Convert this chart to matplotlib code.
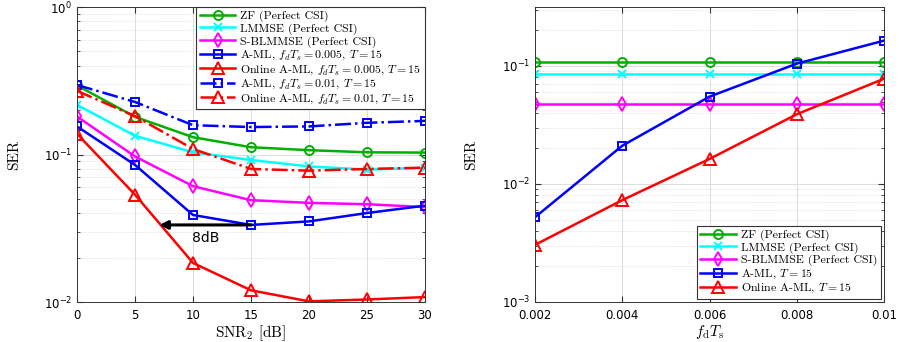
import numpy as np
import matplotlib
matplotlib.use("Agg")
import matplotlib.pyplot as plt
from matplotlib.font_manager import FontProperties
from matplotlib.ticker import LogLocator, NullFormatter

# ---------------- data ----------------
snr = [0, 5, 10, 15, 20, 25, 30]
zf_snr = [0.294, 0.18, 0.131, 0.112, 0.107, 0.1035, 0.103]
lmmse_snr = [0.217, 0.134, 0.1035, 0.0918, 0.083, 0.079, 0.0814]
sblmmse_snr = [0.181, 0.097, 0.061, 0.049, 0.047, 0.046, 0.044]
aml_005 = [0.155, 0.085, 0.0389, 0.0333, 0.0352, 0.0401, 0.045]
online_005 = [0.138, 0.0534, 0.0184, 0.012, 0.0101, 0.0104, 0.0108]
aml_01 = [0.296, 0.227, 0.158, 0.1535, 0.155, 0.164, 0.169]
online_01 = [0.27, 0.182, 0.109, 0.0798, 0.0777, 0.0798, 0.0814]

fdts = [0.002, 0.004, 0.006, 0.008, 0.01]
fdts_labels = ["0.002", "0.004", "0.006", "0.008", "0.01"]
zf_f = [0.109, 0.109, 0.109, 0.109, 0.109]
lmmse_f = [0.0856, 0.0856, 0.0856, 0.0856, 0.0856]
sblmmse_f = [0.048, 0.048, 0.048, 0.048, 0.048]
aml_f = [0.00523, 0.0211, 0.055, 0.1047, 0.164]
online_f = [0.00305, 0.0073, 0.0163, 0.039, 0.078]

labels_left = ["ZF (Perfect CSI)", "LMMSE (Perfect CSI)", "S-BLMMSE (Perfect CSI)",
               r"A-ML, $f_dT_s = 0.005$, $T = 15$",
               r"Online A-ML, $f_dT_s = 0.005$, $T = 15$",
               r"A-ML, $f_dT_s = 0.01$, $T = 15$",
               r"Online A-ML, $f_dT_s = 0.01$, $T = 15$"]
labels_right = ["ZF (Perfect CSI)", "LMMSE (Perfect CSI)", "S-BLMMSE (Perfect CSI)",
                r"A-ML, $T = 15$", r"Online A-ML, $T = 15$"]

# ---------------- style ----------------
GREEN = "#00b000"
CYAN = "#00ffff"
MAG = "#ff00ff"
BLUE = "#0000ff"
RED = "#ff0000"

plt.rcParams["axes.unicode_minus"] = False
cmfp = FontProperties(family="cmr10", size=8.6, math_fontfamily="cm")
labfp = FontProperties(family="cmr10", size=11, math_fontfamily="cm")

fig = plt.figure(figsize=(8.99, 3.42), dpi=100)
W, H = 899, 342
ax1 = fig.add_axes([77 / W, 1 - 302 / H, (425 - 77) / W, (302 - 7) / H])
ax2 = fig.add_axes([535 / W, 1 - 302 / H, (884 - 535) / W, (302 - 7) / H])

lw = 1.8
ms = 6.5
mew = 1.4


def style_axis(ax):
    ax.set_yscale("log")
    ax.grid(True, which="major", color="#dddddd", linewidth=0.7)
    ax.grid(True, which="minor", axis="y", color="#dddddd", linestyle=":", linewidth=0.7)
    ax.tick_params(which="both", direction="in", top=True, right=True, labelsize=8.5,
                   color="#333333")
    ax.tick_params(which="major", length=4)
    ax.tick_params(which="minor", length=2)
    ax.tick_params(axis="x", pad=5)
    ax.yaxis.set_minor_formatter(NullFormatter())
    for s in ax.spines.values():
        s.set_color("#333333")
        s.set_linewidth(0.7)
    ax.set_axisbelow(True)
    ax.yaxis.set_major_locator(LogLocator(base=10, numticks=10))
    ax.yaxis.set_minor_locator(LogLocator(base=10, subs=np.arange(2, 10) * 1.0, numticks=10))


# ---------------- left ----------------
ax1.plot(snr, zf_snr, "-o", color=GREEN, lw=lw, ms=ms, mfc="none", mew=mew, label=labels_left[0])
ax1.plot(snr, lmmse_snr, "-x", color=CYAN, lw=lw, ms=ms - 1, mfc="none", mew=mew, label=labels_left[1])
ax1.plot(snr, sblmmse_snr, "-d", color=MAG, lw=lw, ms=ms + 1, mfc="none", mew=mew, label=labels_left[2])
ax1.plot(snr, aml_005, "-s", color=BLUE, lw=lw, ms=ms - 0.5, mfc="none", mew=mew, label=labels_left[3])
ax1.plot(snr, online_005, "-^", color=RED, lw=lw, ms=ms + 2, mfc="none", mew=mew, label=labels_left[4])
ax1.plot(snr, aml_01, "-.s", color=BLUE, lw=lw, ms=ms - 0.5, mfc="none", mew=mew, label=labels_left[5])
ax1.plot(snr, online_01, "-.^", color=RED, lw=lw, ms=ms + 2, mfc="none", mew=mew, label=labels_left[6])

style_axis(ax1)
ax1.set_xlim(0, 30)
ax1.set_ylim(1e-2, 1e0)
ax1.set_xticks(snr)
ax1.set_xlabel(r"SNR$_2$ [dB]", fontproperties=labfp, labelpad=1)
ax1.set_ylabel("SER", fontproperties=labfp, labelpad=16)
leg1 = ax1.legend(loc="upper right", prop=cmfp, borderaxespad=0, fancybox=False,
                  edgecolor="#333333", framealpha=1, handlelength=3.0,
                  labelspacing=0.1, borderpad=0.3, handletextpad=0.4)
leg1.get_frame().set_linewidth(0.8)

ax1.annotate("", xy=(7.1, 0.0333), xytext=(15, 0.0333),
             arrowprops=dict(arrowstyle="-|>", color="black", lw=2.2,
                             mutation_scale=12, shrinkA=0, shrinkB=0))
ax1.text(11.1, 0.0272, "8dB", fontsize=10, ha="center", va="center")

# ---------------- right ----------------
ax2.plot(fdts, zf_f, "-o", color=GREEN, lw=lw, ms=ms, mfc="none", mew=mew, label=labels_right[0])
ax2.plot(fdts, lmmse_f, "-x", color=CYAN, lw=lw, ms=ms - 1, mfc="none", mew=mew, label=labels_right[1])
ax2.plot(fdts, sblmmse_f, "-d", color=MAG, lw=lw, ms=ms + 1, mfc="none", mew=mew, label=labels_right[2])
ax2.plot(fdts, aml_f, "-s", color=BLUE, lw=lw, ms=ms - 0.5, mfc="none", mew=mew, label=labels_right[3])
ax2.plot(fdts, online_f, "-^", color=RED, lw=lw, ms=ms + 2, mfc="none", mew=mew, label=labels_right[4])

style_axis(ax2)
ax2.set_xlim(0.002, 0.01)
ax2.set_ylim(1e-3, 10 ** -0.5)
ax2.set_xticks(fdts)
ax2.set_xticklabels(fdts_labels)
ax2.set_xlabel(r"$f_{\mathrm{d}}T_{\mathrm{s}}$", fontproperties=labfp, labelpad=1)
ax2.set_ylabel("SER", fontproperties=labfp, labelpad=17)
leg2 = ax2.legend(loc="lower right", prop=cmfp, borderaxespad=0.25, fancybox=False,
                  edgecolor="#333333", framealpha=1, handlelength=3.0,
                  labelspacing=0.1, borderpad=0.3, handletextpad=0.4)
leg2.get_frame().set_linewidth(0.8)

fig.savefig("out.png", dpi=100)
